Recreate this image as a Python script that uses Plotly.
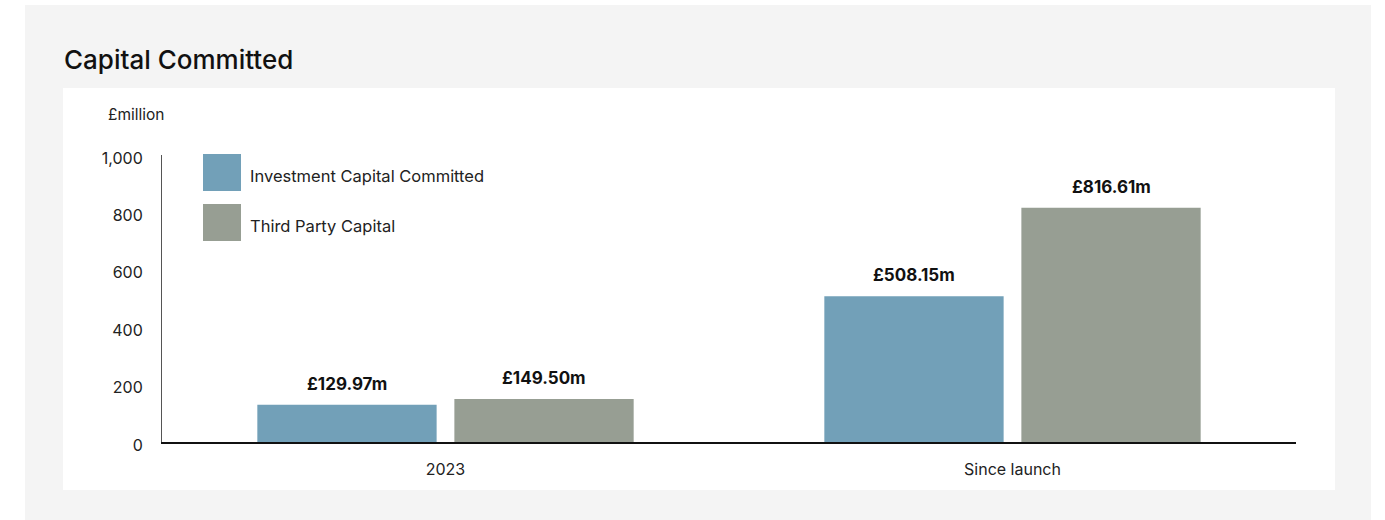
import plotly.graph_objects as go

categories = ["2023", "Since launch"]
series_names = ["Investment Capital Committed", "Third Party Capital"]
investment_values = [129.97, 508.15]
third_party_values = [149.50, 816.61]
y_ticks = [0, 200, 400, 600, 800, 1000]
colors = ["#72A0B8", "#979E93"]

W, H = 1385, 520
L, R, T, B = 162, 1296, 155, 442
BARGAP, GROUPGAP = 0.305, 0.09

def px(x):
    return (x - L) / (R - L)

def py(y):
    return (B - y) / (B - T)

FONT = "Inter, Roboto, sans-serif"

fig = go.Figure()
series = [investment_values, third_party_values]
for name, vals, col in zip(series_names, series, colors):
    fig.add_trace(go.Bar(
        x=categories, y=vals, name=name, marker=dict(color=col, line=dict(width=0)),
        showlegend=False,
    ))

shapes = [
    dict(type="rect", xref="paper", yref="paper", x0=px(25), x1=px(1371), y0=py(520), y1=py(5),
         fillcolor="#F4F4F4", line=dict(width=0), layer="below"),
    dict(type="rect", xref="paper", yref="paper", x0=px(63), x1=px(1335), y0=py(490), y1=py(88),
         fillcolor="#FFFFFF", line=dict(width=0), layer="below"),
]
annotations = [
    dict(text="£million", xref="paper", yref="paper", x=px(106), y=py(114), xanchor="left",
         yanchor="middle", showarrow=False, font=dict(family=FONT, size=15.5, color="#222")),
]
legend_rows = [(154, 191), (204, 241)]
for name, col, (y0, y1) in zip(series_names, colors, legend_rows):
    shapes.append(dict(type="rect", xref="paper", yref="paper", x0=px(203), x1=px(241),
                       y0=py(y1), y1=py(y0), fillcolor=col, line=dict(width=0)))
    annotations.append(dict(text=name, xref="paper", yref="paper", x=px(248), y=py((y0 + y1) / 2 + 3),
                            xanchor="left", yanchor="middle", showarrow=False,
                            font=dict(family=FONT, size=16.5, color="#222")))

# value labels above each bar
cat_px = (R - L) / len(categories)
slot = cat_px * (1 - BARGAP) / len(series)
for si, vals in enumerate(series):
    shift = (si - (len(series) - 1) / 2) * slot
    for ci, v in enumerate(vals):
        annotations.append(dict(text=f"£{v:.2f}m", x=ci, y=v, xref="x", yref="y",
                                xanchor="center", yanchor="bottom", xshift=shift, yshift=9,
                                showarrow=False,
                                font=dict(family=FONT, size=17, color="#111", weight=700)))

fig.update_layout(
    width=W, height=H,
    margin=dict(l=L, r=W - R, t=T, b=H - B),
    paper_bgcolor="#FFFFFF", plot_bgcolor="rgba(0,0,0,0)",
    barmode="group", bargap=BARGAP, bargroupgap=GROUPGAP,
    title=dict(text="Capital Committed", x=64 / W, xanchor="left", y=1 - 60 / H, yanchor="middle",
               font=dict(family=FONT, size=26, color="#111", weight=500)),
    shapes=shapes, annotations=annotations,
    xaxis=dict(type="category", range=[-0.5, len(categories) - 0.5], showline=True,
               linecolor="#111", linewidth=1.5, showgrid=False,
               ticks="", tickfont=dict(family=FONT, size=16, color="#222"), ticklabelstandoff=12),
    yaxis=dict(range=[0, 1000], tickvals=y_ticks, tickformat=",", showline=True, linecolor="#555",
               linewidth=1, showgrid=False, zeroline=False, ticks="",
               tickfont=dict(family=FONT, size=16, color="#222"), ticklabelstandoff=15,
               ticklabelshift=3),
    showlegend=False,
)

fig.write_html("out.html")
